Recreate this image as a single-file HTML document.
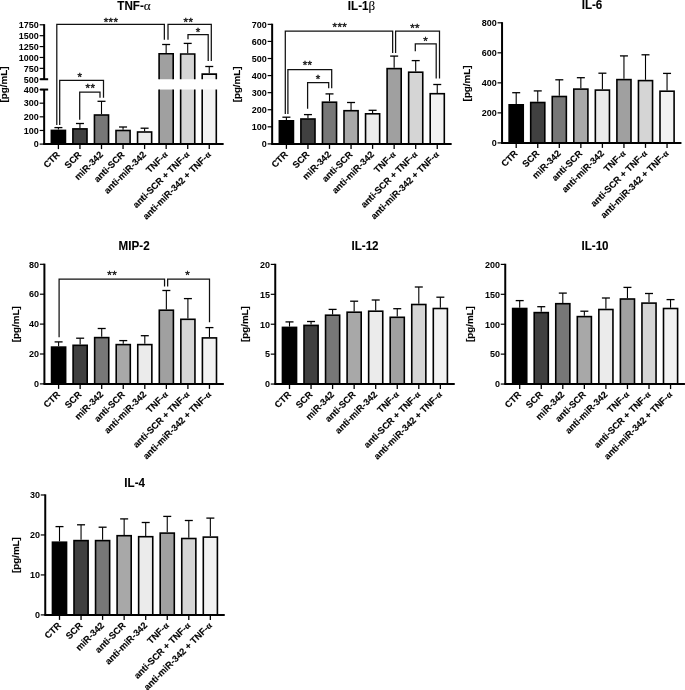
<!DOCTYPE html>
<html><head><meta charset="utf-8"><style>
html,body{margin:0;padding:0;background:#fff;}
svg{display:block;}
text{font-family:"Liberation Sans",Arial,sans-serif;font-weight:bold;fill:#000;stroke:#000;stroke-width:0.15px;}
text.st{font-weight:normal;fill:#111;stroke:#111;stroke-width:0.35px;letter-spacing:0.4px;}
text.ns{stroke:none;}
text.tk{stroke:none;}
text.tt{stroke-width:0.1px;}
.g{font-family:"Liberation Serif","DejaVu Serif",serif;font-weight:bold;}
.gt{font-family:"Liberation Serif","DejaVu Serif",serif;font-weight:normal;font-size:13.5px;stroke-width:0.1px;}
</style></head><body>
<svg width="685" height="690" viewBox="0 0 685 690">
<rect width="685" height="690" fill="#fff"/>
<line x1="58.40" y1="129.60" x2="58.40" y2="127.60" stroke="#000" stroke-width="1.1"/>
<line x1="54.40" y1="127.60" x2="62.40" y2="127.60" stroke="#000" stroke-width="1.3"/>
<rect x="51.35" y="130.40" width="14.10" height="13.70" fill="#000000" stroke="#000" stroke-width="1.6"/>
<line x1="79.95" y1="128.10" x2="79.95" y2="123.50" stroke="#000" stroke-width="1.1"/>
<line x1="75.95" y1="123.50" x2="83.95" y2="123.50" stroke="#000" stroke-width="1.3"/>
<rect x="72.90" y="128.90" width="14.10" height="15.20" fill="#404040" stroke="#000" stroke-width="1.6"/>
<line x1="101.50" y1="114.20" x2="101.50" y2="101.30" stroke="#000" stroke-width="1.1"/>
<line x1="97.50" y1="101.30" x2="105.50" y2="101.30" stroke="#000" stroke-width="1.3"/>
<rect x="94.45" y="115.00" width="14.10" height="29.10" fill="#777777" stroke="#000" stroke-width="1.6"/>
<line x1="123.05" y1="129.70" x2="123.05" y2="127.00" stroke="#000" stroke-width="1.1"/>
<line x1="119.05" y1="127.00" x2="127.05" y2="127.00" stroke="#000" stroke-width="1.3"/>
<rect x="116.00" y="130.50" width="14.10" height="13.60" fill="#a8a8a8" stroke="#000" stroke-width="1.6"/>
<line x1="144.60" y1="131.20" x2="144.60" y2="128.20" stroke="#000" stroke-width="1.1"/>
<line x1="140.60" y1="128.20" x2="148.60" y2="128.20" stroke="#000" stroke-width="1.3"/>
<rect x="137.55" y="132.00" width="14.10" height="12.10" fill="#ebebeb" stroke="#000" stroke-width="1.6"/>
<line x1="166.15" y1="52.90" x2="166.15" y2="44.50" stroke="#000" stroke-width="1.1"/>
<line x1="162.15" y1="44.50" x2="170.15" y2="44.50" stroke="#000" stroke-width="1.3"/>
<rect x="159.10" y="53.70" width="14.10" height="25.55" fill="#a0a0a0" stroke="none"/>
<rect x="159.10" y="89.55" width="14.10" height="54.55" fill="#a0a0a0" stroke="none"/>
<path d="M159.10,79.25 V53.70 H173.20 V79.25 M159.10,144.10 V89.55 M173.20,144.10 V89.55" fill="none" stroke="#000" stroke-width="1.6"/>
<line x1="187.70" y1="53.20" x2="187.70" y2="43.40" stroke="#000" stroke-width="1.1"/>
<line x1="183.70" y1="43.40" x2="191.70" y2="43.40" stroke="#000" stroke-width="1.3"/>
<rect x="180.65" y="54.00" width="14.10" height="25.25" fill="#d5d5d5" stroke="none"/>
<rect x="180.65" y="89.55" width="14.10" height="54.55" fill="#d5d5d5" stroke="none"/>
<path d="M180.65,79.25 V54.00 H194.75 V79.25 M180.65,144.10 V89.55 M194.75,144.10 V89.55" fill="none" stroke="#000" stroke-width="1.6"/>
<line x1="209.25" y1="73.30" x2="209.25" y2="66.50" stroke="#000" stroke-width="1.1"/>
<line x1="205.25" y1="66.50" x2="213.25" y2="66.50" stroke="#000" stroke-width="1.3"/>
<rect x="202.20" y="74.10" width="14.10" height="5.15" fill="#f2f2f2" stroke="none"/>
<rect x="202.20" y="89.55" width="14.10" height="54.55" fill="#f2f2f2" stroke="none"/>
<path d="M202.20,79.25 V74.10 H216.30 V79.25 M202.20,144.10 V89.55 M216.30,144.10 V89.55" fill="none" stroke="#000" stroke-width="1.6"/>
<line x1="44.15" y1="24.15" x2="44.15" y2="79.25" stroke="#000" stroke-width="2"/>
<line x1="44.15" y1="89.55" x2="44.15" y2="144.10" stroke="#000" stroke-width="2"/>
<line x1="40.15" y1="79.25" x2="48.15" y2="79.25" stroke="#000" stroke-width="2"/>
<line x1="40.15" y1="89.55" x2="48.15" y2="89.55" stroke="#000" stroke-width="2"/>
<line x1="39.65" y1="144.10" x2="44.15" y2="144.10" stroke="#000" stroke-width="1.2"/>
<text transform="translate(38.85 147.40) rotate(0.02) scale(0.95 1)" font-size="9.5" text-anchor="end" class="tk">0</text>
<line x1="39.65" y1="130.46" x2="44.15" y2="130.46" stroke="#000" stroke-width="1.2"/>
<text transform="translate(38.85 133.76) rotate(0.02) scale(0.95 1)" font-size="9.5" text-anchor="end" class="tk">100</text>
<line x1="39.65" y1="116.82" x2="44.15" y2="116.82" stroke="#000" stroke-width="1.2"/>
<text transform="translate(38.85 120.12) rotate(0.02) scale(0.95 1)" font-size="9.5" text-anchor="end" class="tk">200</text>
<line x1="39.65" y1="103.18" x2="44.15" y2="103.18" stroke="#000" stroke-width="1.2"/>
<text transform="translate(38.85 106.48) rotate(0.02) scale(0.95 1)" font-size="9.5" text-anchor="end" class="tk">300</text>
<line x1="39.65" y1="89.54" x2="44.15" y2="89.54" stroke="#000" stroke-width="1.2"/>
<text transform="translate(38.85 92.84) rotate(0.02) scale(0.95 1)" font-size="9.5" text-anchor="end" class="tk">400</text>
<line x1="39.65" y1="79.25" x2="44.15" y2="79.25" stroke="#000" stroke-width="1.2"/>
<text transform="translate(38.85 82.55) rotate(0.02) scale(0.95 1)" font-size="9.5" text-anchor="end" class="tk">500</text>
<line x1="39.65" y1="68.36" x2="44.15" y2="68.36" stroke="#000" stroke-width="1.2"/>
<text transform="translate(38.85 71.66) rotate(0.02) scale(0.95 1)" font-size="9.5" text-anchor="end" class="tk">750</text>
<line x1="39.65" y1="57.47" x2="44.15" y2="57.47" stroke="#000" stroke-width="1.2"/>
<text transform="translate(38.85 60.77) rotate(0.02) scale(0.95 1)" font-size="9.5" text-anchor="end" class="tk">1000</text>
<line x1="39.65" y1="46.58" x2="44.15" y2="46.58" stroke="#000" stroke-width="1.2"/>
<text transform="translate(38.85 49.88) rotate(0.02) scale(0.95 1)" font-size="9.5" text-anchor="end" class="tk">1250</text>
<line x1="39.65" y1="35.69" x2="44.15" y2="35.69" stroke="#000" stroke-width="1.2"/>
<text transform="translate(38.85 38.99) rotate(0.02) scale(0.95 1)" font-size="9.5" text-anchor="end" class="tk">1500</text>
<line x1="39.65" y1="24.80" x2="44.15" y2="24.80" stroke="#000" stroke-width="1.2"/>
<text transform="translate(38.85 28.10) rotate(0.02) scale(0.95 1)" font-size="9.5" text-anchor="end" class="tk">1750</text>
<line x1="43.15" y1="144.10" x2="223.65" y2="144.10" stroke="#000" stroke-width="2"/>
<line x1="58.40" y1="144.10" x2="58.40" y2="149.10" stroke="#000" stroke-width="1.3"/>
<text x="60.50" y="155.20" font-size="9.2" text-anchor="end" transform="rotate(-45 60.50 155.20)">CTR</text>
<line x1="79.95" y1="144.10" x2="79.95" y2="149.10" stroke="#000" stroke-width="1.3"/>
<text x="82.05" y="155.20" font-size="9.2" text-anchor="end" transform="rotate(-45 82.05 155.20)">SCR</text>
<line x1="101.50" y1="144.10" x2="101.50" y2="149.10" stroke="#000" stroke-width="1.3"/>
<text x="103.60" y="155.20" font-size="9.2" text-anchor="end" transform="rotate(-45 103.60 155.20)">miR-342</text>
<line x1="123.05" y1="144.10" x2="123.05" y2="149.10" stroke="#000" stroke-width="1.3"/>
<text x="125.15" y="155.20" font-size="9.2" text-anchor="end" transform="rotate(-45 125.15 155.20)">anti-SCR</text>
<line x1="144.60" y1="144.10" x2="144.60" y2="149.10" stroke="#000" stroke-width="1.3"/>
<text x="146.70" y="155.20" font-size="9.2" text-anchor="end" transform="rotate(-45 146.70 155.20)">anti-miR-342</text>
<line x1="166.15" y1="144.10" x2="166.15" y2="149.10" stroke="#000" stroke-width="1.3"/>
<text x="168.25" y="155.20" font-size="9.2" text-anchor="end" transform="rotate(-45 168.25 155.20)">TNF-<tspan class="g">α</tspan></text>
<line x1="187.70" y1="144.10" x2="187.70" y2="149.10" stroke="#000" stroke-width="1.3"/>
<text x="189.80" y="155.20" font-size="9.2" text-anchor="end" transform="rotate(-45 189.80 155.20)">anti-SCR + TNF-<tspan class="g">α</tspan></text>
<line x1="209.25" y1="144.10" x2="209.25" y2="149.10" stroke="#000" stroke-width="1.3"/>
<text x="211.35" y="155.20" font-size="9.2" text-anchor="end" transform="rotate(-45 211.35 155.20)">anti-miR-342 + TNF-<tspan class="g">α</tspan></text>
<text x="7.30" y="84.50" font-size="9.8" text-anchor="middle" transform="rotate(-90 7.30 84.50)">[pg/mL]</text>
<text transform="translate(134.00 9.85) rotate(0.02) scale(0.97 1)" font-size="12.0" text-anchor="middle" class="tt">TNF-<tspan class="gt">α</tspan></text>
<path d="M56.80,125.00 V24.45 H164.35 V39.70" fill="none" stroke="#111" stroke-width="1.25"/>
<text x="111.00" y="25.70" font-size="11.5" text-anchor="middle" class="st">***</text>
<path d="M168.00,39.70 V24.45 H211.30 V61.10" fill="none" stroke="#111" stroke-width="1.25"/>
<text x="188.40" y="26.10" font-size="11.5" text-anchor="middle" class="st">**</text>
<path d="M188.00,39.30 V34.60 H208.20 V61.10" fill="none" stroke="#111" stroke-width="1.25"/>
<text x="198.10" y="36.20" font-size="11.5" text-anchor="middle" class="st">*</text>
<path d="M59.70,125.00 V80.40 H103.50 V97.80" fill="none" stroke="#111" stroke-width="1.25"/>
<text x="80.00" y="80.50" font-size="11.5" text-anchor="middle" class="st">*</text>
<path d="M79.70,119.80 V92.00 H100.00 V97.80" fill="none" stroke="#111" stroke-width="1.25"/>
<text x="90.40" y="92.10" font-size="11.5" text-anchor="middle" class="st">**</text>
<line x1="286.40" y1="120.00" x2="286.40" y2="117.20" stroke="#000" stroke-width="1.1"/>
<line x1="282.40" y1="117.20" x2="290.40" y2="117.20" stroke="#000" stroke-width="1.3"/>
<rect x="279.35" y="120.80" width="14.10" height="23.10" fill="#000000" stroke="#000" stroke-width="1.6"/>
<line x1="307.95" y1="118.20" x2="307.95" y2="114.60" stroke="#000" stroke-width="1.1"/>
<line x1="303.95" y1="114.60" x2="311.95" y2="114.60" stroke="#000" stroke-width="1.3"/>
<rect x="300.90" y="119.00" width="14.10" height="24.90" fill="#404040" stroke="#000" stroke-width="1.6"/>
<line x1="329.50" y1="101.40" x2="329.50" y2="93.90" stroke="#000" stroke-width="1.1"/>
<line x1="325.50" y1="93.90" x2="333.50" y2="93.90" stroke="#000" stroke-width="1.3"/>
<rect x="322.45" y="102.20" width="14.10" height="41.70" fill="#777777" stroke="#000" stroke-width="1.6"/>
<line x1="351.05" y1="109.90" x2="351.05" y2="102.50" stroke="#000" stroke-width="1.1"/>
<line x1="347.05" y1="102.50" x2="355.05" y2="102.50" stroke="#000" stroke-width="1.3"/>
<rect x="344.00" y="110.70" width="14.10" height="33.20" fill="#a8a8a8" stroke="#000" stroke-width="1.6"/>
<line x1="372.60" y1="113.00" x2="372.60" y2="110.30" stroke="#000" stroke-width="1.1"/>
<line x1="368.60" y1="110.30" x2="376.60" y2="110.30" stroke="#000" stroke-width="1.3"/>
<rect x="365.55" y="113.80" width="14.10" height="30.10" fill="#ebebeb" stroke="#000" stroke-width="1.6"/>
<line x1="394.15" y1="67.80" x2="394.15" y2="56.10" stroke="#000" stroke-width="1.1"/>
<line x1="390.15" y1="56.10" x2="398.15" y2="56.10" stroke="#000" stroke-width="1.3"/>
<rect x="387.10" y="68.60" width="14.10" height="75.30" fill="#a0a0a0" stroke="#000" stroke-width="1.6"/>
<line x1="415.70" y1="71.40" x2="415.70" y2="60.60" stroke="#000" stroke-width="1.1"/>
<line x1="411.70" y1="60.60" x2="419.70" y2="60.60" stroke="#000" stroke-width="1.3"/>
<rect x="408.65" y="72.20" width="14.10" height="71.70" fill="#d5d5d5" stroke="#000" stroke-width="1.6"/>
<line x1="437.25" y1="92.90" x2="437.25" y2="84.50" stroke="#000" stroke-width="1.1"/>
<line x1="433.25" y1="84.50" x2="441.25" y2="84.50" stroke="#000" stroke-width="1.3"/>
<rect x="430.20" y="93.70" width="14.10" height="50.20" fill="#f2f2f2" stroke="#000" stroke-width="1.6"/>
<line x1="272.15" y1="23.70" x2="272.15" y2="143.90" stroke="#000" stroke-width="2"/>
<line x1="267.65" y1="143.90" x2="272.15" y2="143.90" stroke="#000" stroke-width="1.2"/>
<text transform="translate(266.85 147.20) rotate(0.02) scale(0.95 1)" font-size="9.5" text-anchor="end" class="tk">0</text>
<line x1="267.65" y1="126.82" x2="272.15" y2="126.82" stroke="#000" stroke-width="1.2"/>
<text transform="translate(266.85 130.12) rotate(0.02) scale(0.95 1)" font-size="9.5" text-anchor="end" class="tk">100</text>
<line x1="267.65" y1="109.74" x2="272.15" y2="109.74" stroke="#000" stroke-width="1.2"/>
<text transform="translate(266.85 113.04) rotate(0.02) scale(0.95 1)" font-size="9.5" text-anchor="end" class="tk">200</text>
<line x1="267.65" y1="92.66" x2="272.15" y2="92.66" stroke="#000" stroke-width="1.2"/>
<text transform="translate(266.85 95.96) rotate(0.02) scale(0.95 1)" font-size="9.5" text-anchor="end" class="tk">300</text>
<line x1="267.65" y1="75.58" x2="272.15" y2="75.58" stroke="#000" stroke-width="1.2"/>
<text transform="translate(266.85 78.88) rotate(0.02) scale(0.95 1)" font-size="9.5" text-anchor="end" class="tk">400</text>
<line x1="267.65" y1="58.51" x2="272.15" y2="58.51" stroke="#000" stroke-width="1.2"/>
<text transform="translate(266.85 61.81) rotate(0.02) scale(0.95 1)" font-size="9.5" text-anchor="end" class="tk">500</text>
<line x1="267.65" y1="41.43" x2="272.15" y2="41.43" stroke="#000" stroke-width="1.2"/>
<text transform="translate(266.85 44.73) rotate(0.02) scale(0.95 1)" font-size="9.5" text-anchor="end" class="tk">600</text>
<line x1="267.65" y1="24.35" x2="272.15" y2="24.35" stroke="#000" stroke-width="1.2"/>
<text transform="translate(266.85 27.65) rotate(0.02) scale(0.95 1)" font-size="9.5" text-anchor="end" class="tk">700</text>
<line x1="271.15" y1="143.90" x2="451.65" y2="143.90" stroke="#000" stroke-width="2"/>
<line x1="286.40" y1="143.90" x2="286.40" y2="148.90" stroke="#000" stroke-width="1.3"/>
<text x="288.50" y="155.00" font-size="9.2" text-anchor="end" transform="rotate(-45 288.50 155.00)">CTR</text>
<line x1="307.95" y1="143.90" x2="307.95" y2="148.90" stroke="#000" stroke-width="1.3"/>
<text x="310.05" y="155.00" font-size="9.2" text-anchor="end" transform="rotate(-45 310.05 155.00)">SCR</text>
<line x1="329.50" y1="143.90" x2="329.50" y2="148.90" stroke="#000" stroke-width="1.3"/>
<text x="331.60" y="155.00" font-size="9.2" text-anchor="end" transform="rotate(-45 331.60 155.00)">miR-342</text>
<line x1="351.05" y1="143.90" x2="351.05" y2="148.90" stroke="#000" stroke-width="1.3"/>
<text x="353.15" y="155.00" font-size="9.2" text-anchor="end" transform="rotate(-45 353.15 155.00)">anti-SCR</text>
<line x1="372.60" y1="143.90" x2="372.60" y2="148.90" stroke="#000" stroke-width="1.3"/>
<text x="374.70" y="155.00" font-size="9.2" text-anchor="end" transform="rotate(-45 374.70 155.00)">anti-miR-342</text>
<line x1="394.15" y1="143.90" x2="394.15" y2="148.90" stroke="#000" stroke-width="1.3"/>
<text x="396.25" y="155.00" font-size="9.2" text-anchor="end" transform="rotate(-45 396.25 155.00)">TNF-<tspan class="g">α</tspan></text>
<line x1="415.70" y1="143.90" x2="415.70" y2="148.90" stroke="#000" stroke-width="1.3"/>
<text x="417.80" y="155.00" font-size="9.2" text-anchor="end" transform="rotate(-45 417.80 155.00)">anti-SCR + TNF-<tspan class="g">α</tspan></text>
<line x1="437.25" y1="143.90" x2="437.25" y2="148.90" stroke="#000" stroke-width="1.3"/>
<text x="439.35" y="155.00" font-size="9.2" text-anchor="end" transform="rotate(-45 439.35 155.00)">anti-miR-342 + TNF-<tspan class="g">α</tspan></text>
<text x="240.40" y="84.40" font-size="9.8" text-anchor="middle" transform="rotate(-90 240.40 84.40)">[pg/mL]</text>
<text transform="translate(361.50 9.90) rotate(0.02) scale(0.97 1)" font-size="12.0" text-anchor="middle" class="tt">IL-1<tspan class="gt">β</tspan></text>
<path d="M285.30,113.90 V31.05 H392.65 V52.90" fill="none" stroke="#111" stroke-width="1.25"/>
<text x="339.90" y="31.30" font-size="11.5" text-anchor="middle" class="st">***</text>
<path d="M395.60,52.90 V31.05 H439.50 V78.60" fill="none" stroke="#111" stroke-width="1.25"/>
<text x="415.10" y="31.70" font-size="11.5" text-anchor="middle" class="st">**</text>
<path d="M415.30,51.20 V43.80 H436.20 V78.60" fill="none" stroke="#111" stroke-width="1.25"/>
<text x="425.80" y="44.80" font-size="11.5" text-anchor="middle" class="st">*</text>
<path d="M287.90,113.90 V69.50 H331.70 V88.30" fill="none" stroke="#111" stroke-width="1.25"/>
<text x="307.60" y="68.90" font-size="11.5" text-anchor="middle" class="st">**</text>
<path d="M307.60,108.70 V82.50 H328.70 V88.30" fill="none" stroke="#111" stroke-width="1.25"/>
<text x="318.30" y="83.30" font-size="11.5" text-anchor="middle" class="st">*</text>
<line x1="516.20" y1="104.00" x2="516.20" y2="92.70" stroke="#000" stroke-width="1.1"/>
<line x1="512.20" y1="92.70" x2="520.20" y2="92.70" stroke="#000" stroke-width="1.3"/>
<rect x="509.15" y="104.80" width="14.10" height="38.10" fill="#000000" stroke="#000" stroke-width="1.6"/>
<line x1="537.75" y1="101.70" x2="537.75" y2="90.90" stroke="#000" stroke-width="1.1"/>
<line x1="533.75" y1="90.90" x2="541.75" y2="90.90" stroke="#000" stroke-width="1.3"/>
<rect x="530.70" y="102.50" width="14.10" height="40.40" fill="#404040" stroke="#000" stroke-width="1.6"/>
<line x1="559.30" y1="95.70" x2="559.30" y2="79.80" stroke="#000" stroke-width="1.1"/>
<line x1="555.30" y1="79.80" x2="563.30" y2="79.80" stroke="#000" stroke-width="1.3"/>
<rect x="552.25" y="96.50" width="14.10" height="46.40" fill="#777777" stroke="#000" stroke-width="1.6"/>
<line x1="580.85" y1="88.30" x2="580.85" y2="77.70" stroke="#000" stroke-width="1.1"/>
<line x1="576.85" y1="77.70" x2="584.85" y2="77.70" stroke="#000" stroke-width="1.3"/>
<rect x="573.80" y="89.10" width="14.10" height="53.80" fill="#a8a8a8" stroke="#000" stroke-width="1.6"/>
<line x1="602.40" y1="89.30" x2="602.40" y2="73.20" stroke="#000" stroke-width="1.1"/>
<line x1="598.40" y1="73.20" x2="606.40" y2="73.20" stroke="#000" stroke-width="1.3"/>
<rect x="595.35" y="90.10" width="14.10" height="52.80" fill="#ebebeb" stroke="#000" stroke-width="1.6"/>
<line x1="623.95" y1="78.80" x2="623.95" y2="55.90" stroke="#000" stroke-width="1.1"/>
<line x1="619.95" y1="55.90" x2="627.95" y2="55.90" stroke="#000" stroke-width="1.3"/>
<rect x="616.90" y="79.60" width="14.10" height="63.30" fill="#a0a0a0" stroke="#000" stroke-width="1.6"/>
<line x1="645.50" y1="79.80" x2="645.50" y2="54.80" stroke="#000" stroke-width="1.1"/>
<line x1="641.50" y1="54.80" x2="649.50" y2="54.80" stroke="#000" stroke-width="1.3"/>
<rect x="638.45" y="80.60" width="14.10" height="62.30" fill="#d5d5d5" stroke="#000" stroke-width="1.6"/>
<line x1="667.05" y1="90.40" x2="667.05" y2="73.40" stroke="#000" stroke-width="1.1"/>
<line x1="663.05" y1="73.40" x2="671.05" y2="73.40" stroke="#000" stroke-width="1.3"/>
<rect x="660.00" y="91.20" width="14.10" height="51.70" fill="#f2f2f2" stroke="#000" stroke-width="1.6"/>
<line x1="502.05" y1="22.15" x2="502.05" y2="142.90" stroke="#000" stroke-width="2"/>
<line x1="497.55" y1="142.90" x2="502.05" y2="142.90" stroke="#000" stroke-width="1.2"/>
<text transform="translate(496.75 146.20) rotate(0.02) scale(0.95 1)" font-size="9.5" text-anchor="end" class="tk">0</text>
<line x1="497.55" y1="112.87" x2="502.05" y2="112.87" stroke="#000" stroke-width="1.2"/>
<text transform="translate(496.75 116.17) rotate(0.02) scale(0.95 1)" font-size="9.5" text-anchor="end" class="tk">200</text>
<line x1="497.55" y1="82.85" x2="502.05" y2="82.85" stroke="#000" stroke-width="1.2"/>
<text transform="translate(496.75 86.15) rotate(0.02) scale(0.95 1)" font-size="9.5" text-anchor="end" class="tk">400</text>
<line x1="497.55" y1="52.82" x2="502.05" y2="52.82" stroke="#000" stroke-width="1.2"/>
<text transform="translate(496.75 56.12) rotate(0.02) scale(0.95 1)" font-size="9.5" text-anchor="end" class="tk">600</text>
<line x1="497.55" y1="22.80" x2="502.05" y2="22.80" stroke="#000" stroke-width="1.2"/>
<text transform="translate(496.75 26.10) rotate(0.02) scale(0.95 1)" font-size="9.5" text-anchor="end" class="tk">800</text>
<line x1="501.05" y1="142.90" x2="681.45" y2="142.90" stroke="#000" stroke-width="2"/>
<line x1="516.20" y1="142.90" x2="516.20" y2="147.90" stroke="#000" stroke-width="1.3"/>
<text x="518.30" y="154.00" font-size="9.2" text-anchor="end" transform="rotate(-45 518.30 154.00)">CTR</text>
<line x1="537.75" y1="142.90" x2="537.75" y2="147.90" stroke="#000" stroke-width="1.3"/>
<text x="539.85" y="154.00" font-size="9.2" text-anchor="end" transform="rotate(-45 539.85 154.00)">SCR</text>
<line x1="559.30" y1="142.90" x2="559.30" y2="147.90" stroke="#000" stroke-width="1.3"/>
<text x="561.40" y="154.00" font-size="9.2" text-anchor="end" transform="rotate(-45 561.40 154.00)">miR-342</text>
<line x1="580.85" y1="142.90" x2="580.85" y2="147.90" stroke="#000" stroke-width="1.3"/>
<text x="582.95" y="154.00" font-size="9.2" text-anchor="end" transform="rotate(-45 582.95 154.00)">anti-SCR</text>
<line x1="602.40" y1="142.90" x2="602.40" y2="147.90" stroke="#000" stroke-width="1.3"/>
<text x="604.50" y="154.00" font-size="9.2" text-anchor="end" transform="rotate(-45 604.50 154.00)">anti-miR-342</text>
<line x1="623.95" y1="142.90" x2="623.95" y2="147.90" stroke="#000" stroke-width="1.3"/>
<text x="626.05" y="154.00" font-size="9.2" text-anchor="end" transform="rotate(-45 626.05 154.00)">TNF-<tspan class="g">α</tspan></text>
<line x1="645.50" y1="142.90" x2="645.50" y2="147.90" stroke="#000" stroke-width="1.3"/>
<text x="647.60" y="154.00" font-size="9.2" text-anchor="end" transform="rotate(-45 647.60 154.00)">anti-SCR + TNF-<tspan class="g">α</tspan></text>
<line x1="667.05" y1="142.90" x2="667.05" y2="147.90" stroke="#000" stroke-width="1.3"/>
<text x="669.15" y="154.00" font-size="9.2" text-anchor="end" transform="rotate(-45 669.15 154.00)">anti-miR-342 + TNF-<tspan class="g">α</tspan></text>
<text x="469.60" y="83.40" font-size="9.8" text-anchor="middle" transform="rotate(-90 469.60 83.40)">[pg/mL]</text>
<text transform="translate(592.00 8.80) rotate(0.02) scale(0.97 1)" font-size="12.0" text-anchor="middle" class="tt">IL-6</text>
<line x1="58.60" y1="346.30" x2="58.60" y2="341.90" stroke="#000" stroke-width="1.1"/>
<line x1="54.60" y1="341.90" x2="62.60" y2="341.90" stroke="#000" stroke-width="1.3"/>
<rect x="51.55" y="347.10" width="14.10" height="36.80" fill="#000000" stroke="#000" stroke-width="1.6"/>
<line x1="80.15" y1="344.50" x2="80.15" y2="338.20" stroke="#000" stroke-width="1.1"/>
<line x1="76.15" y1="338.20" x2="84.15" y2="338.20" stroke="#000" stroke-width="1.3"/>
<rect x="73.10" y="345.30" width="14.10" height="38.60" fill="#404040" stroke="#000" stroke-width="1.6"/>
<line x1="101.70" y1="336.80" x2="101.70" y2="328.50" stroke="#000" stroke-width="1.1"/>
<line x1="97.70" y1="328.50" x2="105.70" y2="328.50" stroke="#000" stroke-width="1.3"/>
<rect x="94.65" y="337.60" width="14.10" height="46.30" fill="#777777" stroke="#000" stroke-width="1.6"/>
<line x1="123.25" y1="343.80" x2="123.25" y2="340.60" stroke="#000" stroke-width="1.1"/>
<line x1="119.25" y1="340.60" x2="127.25" y2="340.60" stroke="#000" stroke-width="1.3"/>
<rect x="116.20" y="344.60" width="14.10" height="39.30" fill="#a8a8a8" stroke="#000" stroke-width="1.6"/>
<line x1="144.80" y1="343.80" x2="144.80" y2="335.70" stroke="#000" stroke-width="1.1"/>
<line x1="140.80" y1="335.70" x2="148.80" y2="335.70" stroke="#000" stroke-width="1.3"/>
<rect x="137.75" y="344.60" width="14.10" height="39.30" fill="#ebebeb" stroke="#000" stroke-width="1.6"/>
<line x1="166.35" y1="309.40" x2="166.35" y2="290.50" stroke="#000" stroke-width="1.1"/>
<line x1="162.35" y1="290.50" x2="170.35" y2="290.50" stroke="#000" stroke-width="1.3"/>
<rect x="159.30" y="310.20" width="14.10" height="73.70" fill="#a0a0a0" stroke="#000" stroke-width="1.6"/>
<line x1="187.90" y1="318.50" x2="187.90" y2="298.60" stroke="#000" stroke-width="1.1"/>
<line x1="183.90" y1="298.60" x2="191.90" y2="298.60" stroke="#000" stroke-width="1.3"/>
<rect x="180.85" y="319.30" width="14.10" height="64.60" fill="#d5d5d5" stroke="#000" stroke-width="1.6"/>
<line x1="209.45" y1="337.10" x2="209.45" y2="327.60" stroke="#000" stroke-width="1.1"/>
<line x1="205.45" y1="327.60" x2="213.45" y2="327.60" stroke="#000" stroke-width="1.3"/>
<rect x="202.40" y="337.90" width="14.10" height="46.00" fill="#f2f2f2" stroke="#000" stroke-width="1.6"/>
<line x1="44.40" y1="263.65" x2="44.40" y2="383.90" stroke="#000" stroke-width="2"/>
<line x1="39.90" y1="383.90" x2="44.40" y2="383.90" stroke="#000" stroke-width="1.2"/>
<text transform="translate(39.10 387.20) rotate(0.02) scale(0.95 1)" font-size="9.5" text-anchor="end" class="tk">0</text>
<line x1="39.90" y1="354.00" x2="44.40" y2="354.00" stroke="#000" stroke-width="1.2"/>
<text transform="translate(39.10 357.30) rotate(0.02) scale(0.95 1)" font-size="9.5" text-anchor="end" class="tk">20</text>
<line x1="39.90" y1="324.10" x2="44.40" y2="324.10" stroke="#000" stroke-width="1.2"/>
<text transform="translate(39.10 327.40) rotate(0.02) scale(0.95 1)" font-size="9.5" text-anchor="end" class="tk">40</text>
<line x1="39.90" y1="294.20" x2="44.40" y2="294.20" stroke="#000" stroke-width="1.2"/>
<text transform="translate(39.10 297.50) rotate(0.02) scale(0.95 1)" font-size="9.5" text-anchor="end" class="tk">60</text>
<line x1="39.90" y1="264.30" x2="44.40" y2="264.30" stroke="#000" stroke-width="1.2"/>
<text transform="translate(39.10 267.60) rotate(0.02) scale(0.95 1)" font-size="9.5" text-anchor="end" class="tk">80</text>
<line x1="43.40" y1="383.90" x2="223.85" y2="383.90" stroke="#000" stroke-width="2"/>
<line x1="58.60" y1="383.90" x2="58.60" y2="388.90" stroke="#000" stroke-width="1.3"/>
<text x="60.70" y="395.00" font-size="9.2" text-anchor="end" transform="rotate(-45 60.70 395.00)">CTR</text>
<line x1="80.15" y1="383.90" x2="80.15" y2="388.90" stroke="#000" stroke-width="1.3"/>
<text x="82.25" y="395.00" font-size="9.2" text-anchor="end" transform="rotate(-45 82.25 395.00)">SCR</text>
<line x1="101.70" y1="383.90" x2="101.70" y2="388.90" stroke="#000" stroke-width="1.3"/>
<text x="103.80" y="395.00" font-size="9.2" text-anchor="end" transform="rotate(-45 103.80 395.00)">miR-342</text>
<line x1="123.25" y1="383.90" x2="123.25" y2="388.90" stroke="#000" stroke-width="1.3"/>
<text x="125.35" y="395.00" font-size="9.2" text-anchor="end" transform="rotate(-45 125.35 395.00)">anti-SCR</text>
<line x1="144.80" y1="383.90" x2="144.80" y2="388.90" stroke="#000" stroke-width="1.3"/>
<text x="146.90" y="395.00" font-size="9.2" text-anchor="end" transform="rotate(-45 146.90 395.00)">anti-miR-342</text>
<line x1="166.35" y1="383.90" x2="166.35" y2="388.90" stroke="#000" stroke-width="1.3"/>
<text x="168.45" y="395.00" font-size="9.2" text-anchor="end" transform="rotate(-45 168.45 395.00)">TNF-<tspan class="g">α</tspan></text>
<line x1="187.90" y1="383.90" x2="187.90" y2="388.90" stroke="#000" stroke-width="1.3"/>
<text x="190.00" y="395.00" font-size="9.2" text-anchor="end" transform="rotate(-45 190.00 395.00)">anti-SCR + TNF-<tspan class="g">α</tspan></text>
<line x1="209.45" y1="383.90" x2="209.45" y2="388.90" stroke="#000" stroke-width="1.3"/>
<text x="211.55" y="395.00" font-size="9.2" text-anchor="end" transform="rotate(-45 211.55 395.00)">anti-miR-342 + TNF-<tspan class="g">α</tspan></text>
<text x="19.00" y="324.20" font-size="9.8" text-anchor="middle" transform="rotate(-90 19.00 324.20)">[pg/mL]</text>
<text transform="translate(134.10 249.90) rotate(0.02) scale(0.97 1)" font-size="12.0" text-anchor="middle" class="tt">MIP-2</text>
<path d="M59.10,337.20 V279.00 H164.55 V286.40" fill="none" stroke="#111" stroke-width="1.25"/>
<text x="112.20" y="279.20" font-size="11.5" text-anchor="middle" class="st">**</text>
<path d="M167.65,286.40 V279.00 H209.50 V322.30" fill="none" stroke="#111" stroke-width="1.25"/>
<text x="187.80" y="278.50" font-size="11.5" text-anchor="middle" class="st">*</text>
<line x1="289.50" y1="326.60" x2="289.50" y2="321.90" stroke="#000" stroke-width="1.1"/>
<line x1="285.50" y1="321.90" x2="293.50" y2="321.90" stroke="#000" stroke-width="1.3"/>
<rect x="282.45" y="327.40" width="14.10" height="56.65" fill="#000000" stroke="#000" stroke-width="1.6"/>
<line x1="311.05" y1="324.60" x2="311.05" y2="321.50" stroke="#000" stroke-width="1.1"/>
<line x1="307.05" y1="321.50" x2="315.05" y2="321.50" stroke="#000" stroke-width="1.3"/>
<rect x="304.00" y="325.40" width="14.10" height="58.65" fill="#404040" stroke="#000" stroke-width="1.6"/>
<line x1="332.60" y1="314.40" x2="332.60" y2="309.40" stroke="#000" stroke-width="1.1"/>
<line x1="328.60" y1="309.40" x2="336.60" y2="309.40" stroke="#000" stroke-width="1.3"/>
<rect x="325.55" y="315.20" width="14.10" height="68.85" fill="#777777" stroke="#000" stroke-width="1.6"/>
<line x1="354.15" y1="311.40" x2="354.15" y2="301.20" stroke="#000" stroke-width="1.1"/>
<line x1="350.15" y1="301.20" x2="358.15" y2="301.20" stroke="#000" stroke-width="1.3"/>
<rect x="347.10" y="312.20" width="14.10" height="71.85" fill="#a8a8a8" stroke="#000" stroke-width="1.6"/>
<line x1="375.70" y1="310.40" x2="375.70" y2="300.00" stroke="#000" stroke-width="1.1"/>
<line x1="371.70" y1="300.00" x2="379.70" y2="300.00" stroke="#000" stroke-width="1.3"/>
<rect x="368.65" y="311.20" width="14.10" height="72.85" fill="#ebebeb" stroke="#000" stroke-width="1.6"/>
<line x1="397.25" y1="316.50" x2="397.25" y2="308.70" stroke="#000" stroke-width="1.1"/>
<line x1="393.25" y1="308.70" x2="401.25" y2="308.70" stroke="#000" stroke-width="1.3"/>
<rect x="390.20" y="317.30" width="14.10" height="66.75" fill="#a0a0a0" stroke="#000" stroke-width="1.6"/>
<line x1="418.80" y1="303.70" x2="418.80" y2="287.00" stroke="#000" stroke-width="1.1"/>
<line x1="414.80" y1="287.00" x2="422.80" y2="287.00" stroke="#000" stroke-width="1.3"/>
<rect x="411.75" y="304.50" width="14.10" height="79.55" fill="#d5d5d5" stroke="#000" stroke-width="1.6"/>
<line x1="440.35" y1="307.70" x2="440.35" y2="297.20" stroke="#000" stroke-width="1.1"/>
<line x1="436.35" y1="297.20" x2="444.35" y2="297.20" stroke="#000" stroke-width="1.3"/>
<rect x="433.30" y="308.50" width="14.10" height="75.55" fill="#f2f2f2" stroke="#000" stroke-width="1.6"/>
<line x1="275.25" y1="263.75" x2="275.25" y2="384.05" stroke="#000" stroke-width="2"/>
<line x1="270.75" y1="384.05" x2="275.25" y2="384.05" stroke="#000" stroke-width="1.2"/>
<text transform="translate(269.95 387.35) rotate(0.02) scale(0.95 1)" font-size="9.5" text-anchor="end" class="tk">0</text>
<line x1="270.75" y1="354.14" x2="275.25" y2="354.14" stroke="#000" stroke-width="1.2"/>
<text transform="translate(269.95 357.44) rotate(0.02) scale(0.95 1)" font-size="9.5" text-anchor="end" class="tk">5</text>
<line x1="270.75" y1="324.23" x2="275.25" y2="324.23" stroke="#000" stroke-width="1.2"/>
<text transform="translate(269.95 327.53) rotate(0.02) scale(0.95 1)" font-size="9.5" text-anchor="end" class="tk">10</text>
<line x1="270.75" y1="294.31" x2="275.25" y2="294.31" stroke="#000" stroke-width="1.2"/>
<text transform="translate(269.95 297.61) rotate(0.02) scale(0.95 1)" font-size="9.5" text-anchor="end" class="tk">15</text>
<line x1="270.75" y1="264.40" x2="275.25" y2="264.40" stroke="#000" stroke-width="1.2"/>
<text transform="translate(269.95 267.70) rotate(0.02) scale(0.95 1)" font-size="9.5" text-anchor="end" class="tk">20</text>
<line x1="274.25" y1="384.05" x2="454.75" y2="384.05" stroke="#000" stroke-width="2"/>
<line x1="289.50" y1="384.05" x2="289.50" y2="389.05" stroke="#000" stroke-width="1.3"/>
<text x="291.60" y="395.15" font-size="9.2" text-anchor="end" transform="rotate(-45 291.60 395.15)">CTR</text>
<line x1="311.05" y1="384.05" x2="311.05" y2="389.05" stroke="#000" stroke-width="1.3"/>
<text x="313.15" y="395.15" font-size="9.2" text-anchor="end" transform="rotate(-45 313.15 395.15)">SCR</text>
<line x1="332.60" y1="384.05" x2="332.60" y2="389.05" stroke="#000" stroke-width="1.3"/>
<text x="334.70" y="395.15" font-size="9.2" text-anchor="end" transform="rotate(-45 334.70 395.15)">miR-342</text>
<line x1="354.15" y1="384.05" x2="354.15" y2="389.05" stroke="#000" stroke-width="1.3"/>
<text x="356.25" y="395.15" font-size="9.2" text-anchor="end" transform="rotate(-45 356.25 395.15)">anti-SCR</text>
<line x1="375.70" y1="384.05" x2="375.70" y2="389.05" stroke="#000" stroke-width="1.3"/>
<text x="377.80" y="395.15" font-size="9.2" text-anchor="end" transform="rotate(-45 377.80 395.15)">anti-miR-342</text>
<line x1="397.25" y1="384.05" x2="397.25" y2="389.05" stroke="#000" stroke-width="1.3"/>
<text x="399.35" y="395.15" font-size="9.2" text-anchor="end" transform="rotate(-45 399.35 395.15)">TNF-<tspan class="g">α</tspan></text>
<line x1="418.80" y1="384.05" x2="418.80" y2="389.05" stroke="#000" stroke-width="1.3"/>
<text x="420.90" y="395.15" font-size="9.2" text-anchor="end" transform="rotate(-45 420.90 395.15)">anti-SCR + TNF-<tspan class="g">α</tspan></text>
<line x1="440.35" y1="384.05" x2="440.35" y2="389.05" stroke="#000" stroke-width="1.3"/>
<text x="442.45" y="395.15" font-size="9.2" text-anchor="end" transform="rotate(-45 442.45 395.15)">anti-miR-342 + TNF-<tspan class="g">α</tspan></text>
<text x="248.30" y="324.10" font-size="9.8" text-anchor="middle" transform="rotate(-90 248.30 324.10)">[pg/mL]</text>
<text transform="translate(365.00 249.70) rotate(0.02) scale(0.97 1)" font-size="12.0" text-anchor="middle" class="tt">IL-12</text>
<line x1="519.70" y1="307.70" x2="519.70" y2="300.60" stroke="#000" stroke-width="1.1"/>
<line x1="515.70" y1="300.60" x2="523.70" y2="300.60" stroke="#000" stroke-width="1.3"/>
<rect x="512.65" y="308.50" width="14.10" height="75.55" fill="#000000" stroke="#000" stroke-width="1.6"/>
<line x1="541.25" y1="311.80" x2="541.25" y2="306.70" stroke="#000" stroke-width="1.1"/>
<line x1="537.25" y1="306.70" x2="545.25" y2="306.70" stroke="#000" stroke-width="1.3"/>
<rect x="534.20" y="312.60" width="14.10" height="71.45" fill="#404040" stroke="#000" stroke-width="1.6"/>
<line x1="562.80" y1="302.90" x2="562.80" y2="293.10" stroke="#000" stroke-width="1.1"/>
<line x1="558.80" y1="293.10" x2="566.80" y2="293.10" stroke="#000" stroke-width="1.3"/>
<rect x="555.75" y="303.70" width="14.10" height="80.35" fill="#777777" stroke="#000" stroke-width="1.6"/>
<line x1="584.35" y1="315.80" x2="584.35" y2="311.20" stroke="#000" stroke-width="1.1"/>
<line x1="580.35" y1="311.20" x2="588.35" y2="311.20" stroke="#000" stroke-width="1.3"/>
<rect x="577.30" y="316.60" width="14.10" height="67.45" fill="#a8a8a8" stroke="#000" stroke-width="1.6"/>
<line x1="605.90" y1="308.70" x2="605.90" y2="298.00" stroke="#000" stroke-width="1.1"/>
<line x1="601.90" y1="298.00" x2="609.90" y2="298.00" stroke="#000" stroke-width="1.3"/>
<rect x="598.85" y="309.50" width="14.10" height="74.55" fill="#ebebeb" stroke="#000" stroke-width="1.6"/>
<line x1="627.45" y1="298.20" x2="627.45" y2="287.40" stroke="#000" stroke-width="1.1"/>
<line x1="623.45" y1="287.40" x2="631.45" y2="287.40" stroke="#000" stroke-width="1.3"/>
<rect x="620.40" y="299.00" width="14.10" height="85.05" fill="#a0a0a0" stroke="#000" stroke-width="1.6"/>
<line x1="649.00" y1="302.30" x2="649.00" y2="293.50" stroke="#000" stroke-width="1.1"/>
<line x1="645.00" y1="293.50" x2="653.00" y2="293.50" stroke="#000" stroke-width="1.3"/>
<rect x="641.95" y="303.10" width="14.10" height="80.95" fill="#d5d5d5" stroke="#000" stroke-width="1.6"/>
<line x1="670.55" y1="307.70" x2="670.55" y2="299.60" stroke="#000" stroke-width="1.1"/>
<line x1="666.55" y1="299.60" x2="674.55" y2="299.60" stroke="#000" stroke-width="1.3"/>
<rect x="663.50" y="308.50" width="14.10" height="75.55" fill="#f2f2f2" stroke="#000" stroke-width="1.6"/>
<line x1="505.25" y1="263.74" x2="505.25" y2="384.05" stroke="#000" stroke-width="2"/>
<line x1="500.75" y1="384.05" x2="505.25" y2="384.05" stroke="#000" stroke-width="1.2"/>
<text transform="translate(499.95 387.35) rotate(0.02) scale(0.95 1)" font-size="9.5" text-anchor="end" class="tk">0</text>
<line x1="500.75" y1="354.13" x2="505.25" y2="354.13" stroke="#000" stroke-width="1.2"/>
<text transform="translate(499.95 357.44) rotate(0.02) scale(0.95 1)" font-size="9.5" text-anchor="end" class="tk">50</text>
<line x1="500.75" y1="324.22" x2="505.25" y2="324.22" stroke="#000" stroke-width="1.2"/>
<text transform="translate(499.95 327.52) rotate(0.02) scale(0.95 1)" font-size="9.5" text-anchor="end" class="tk">100</text>
<line x1="500.75" y1="294.31" x2="505.25" y2="294.31" stroke="#000" stroke-width="1.2"/>
<text transform="translate(499.95 297.61) rotate(0.02) scale(0.95 1)" font-size="9.5" text-anchor="end" class="tk">150</text>
<line x1="500.75" y1="264.39" x2="505.25" y2="264.39" stroke="#000" stroke-width="1.2"/>
<text transform="translate(499.95 267.69) rotate(0.02) scale(0.95 1)" font-size="9.5" text-anchor="end" class="tk">200</text>
<line x1="504.25" y1="384.05" x2="684.95" y2="384.05" stroke="#000" stroke-width="2"/>
<line x1="519.70" y1="384.05" x2="519.70" y2="389.05" stroke="#000" stroke-width="1.3"/>
<text x="521.80" y="395.15" font-size="9.2" text-anchor="end" transform="rotate(-45 521.80 395.15)">CTR</text>
<line x1="541.25" y1="384.05" x2="541.25" y2="389.05" stroke="#000" stroke-width="1.3"/>
<text x="543.35" y="395.15" font-size="9.2" text-anchor="end" transform="rotate(-45 543.35 395.15)">SCR</text>
<line x1="562.80" y1="384.05" x2="562.80" y2="389.05" stroke="#000" stroke-width="1.3"/>
<text x="564.90" y="395.15" font-size="9.2" text-anchor="end" transform="rotate(-45 564.90 395.15)">miR-342</text>
<line x1="584.35" y1="384.05" x2="584.35" y2="389.05" stroke="#000" stroke-width="1.3"/>
<text x="586.45" y="395.15" font-size="9.2" text-anchor="end" transform="rotate(-45 586.45 395.15)">anti-SCR</text>
<line x1="605.90" y1="384.05" x2="605.90" y2="389.05" stroke="#000" stroke-width="1.3"/>
<text x="608.00" y="395.15" font-size="9.2" text-anchor="end" transform="rotate(-45 608.00 395.15)">anti-miR-342</text>
<line x1="627.45" y1="384.05" x2="627.45" y2="389.05" stroke="#000" stroke-width="1.3"/>
<text x="629.55" y="395.15" font-size="9.2" text-anchor="end" transform="rotate(-45 629.55 395.15)">TNF-<tspan class="g">α</tspan></text>
<line x1="649.00" y1="384.05" x2="649.00" y2="389.05" stroke="#000" stroke-width="1.3"/>
<text x="651.10" y="395.15" font-size="9.2" text-anchor="end" transform="rotate(-45 651.10 395.15)">anti-SCR + TNF-<tspan class="g">α</tspan></text>
<line x1="670.55" y1="384.05" x2="670.55" y2="389.05" stroke="#000" stroke-width="1.3"/>
<text x="672.65" y="395.15" font-size="9.2" text-anchor="end" transform="rotate(-45 672.65 395.15)">anti-miR-342 + TNF-<tspan class="g">α</tspan></text>
<text x="473.20" y="324.10" font-size="9.8" text-anchor="middle" transform="rotate(-90 473.20 324.10)">[pg/mL]</text>
<text transform="translate(595.00 249.70) rotate(0.02) scale(0.97 1)" font-size="12.0" text-anchor="middle" class="tt">IL-10</text>
<line x1="59.50" y1="541.40" x2="59.50" y2="526.60" stroke="#000" stroke-width="1.1"/>
<line x1="55.50" y1="526.60" x2="63.50" y2="526.60" stroke="#000" stroke-width="1.3"/>
<rect x="52.45" y="542.20" width="14.10" height="72.70" fill="#000000" stroke="#000" stroke-width="1.6"/>
<line x1="81.05" y1="539.80" x2="81.05" y2="524.80" stroke="#000" stroke-width="1.1"/>
<line x1="77.05" y1="524.80" x2="85.05" y2="524.80" stroke="#000" stroke-width="1.3"/>
<rect x="74.00" y="540.60" width="14.10" height="74.30" fill="#404040" stroke="#000" stroke-width="1.6"/>
<line x1="102.60" y1="539.80" x2="102.60" y2="527.20" stroke="#000" stroke-width="1.1"/>
<line x1="98.60" y1="527.20" x2="106.60" y2="527.20" stroke="#000" stroke-width="1.3"/>
<rect x="95.55" y="540.60" width="14.10" height="74.30" fill="#777777" stroke="#000" stroke-width="1.6"/>
<line x1="124.15" y1="534.90" x2="124.15" y2="518.90" stroke="#000" stroke-width="1.1"/>
<line x1="120.15" y1="518.90" x2="128.15" y2="518.90" stroke="#000" stroke-width="1.3"/>
<rect x="117.10" y="535.70" width="14.10" height="79.20" fill="#a8a8a8" stroke="#000" stroke-width="1.6"/>
<line x1="145.70" y1="535.90" x2="145.70" y2="522.50" stroke="#000" stroke-width="1.1"/>
<line x1="141.70" y1="522.50" x2="149.70" y2="522.50" stroke="#000" stroke-width="1.3"/>
<rect x="138.65" y="536.70" width="14.10" height="78.20" fill="#ebebeb" stroke="#000" stroke-width="1.6"/>
<line x1="167.25" y1="532.30" x2="167.25" y2="516.40" stroke="#000" stroke-width="1.1"/>
<line x1="163.25" y1="516.40" x2="171.25" y2="516.40" stroke="#000" stroke-width="1.3"/>
<rect x="160.20" y="533.10" width="14.10" height="81.80" fill="#a0a0a0" stroke="#000" stroke-width="1.6"/>
<line x1="188.80" y1="537.70" x2="188.80" y2="520.50" stroke="#000" stroke-width="1.1"/>
<line x1="184.80" y1="520.50" x2="192.80" y2="520.50" stroke="#000" stroke-width="1.3"/>
<rect x="181.75" y="538.50" width="14.10" height="76.40" fill="#d5d5d5" stroke="#000" stroke-width="1.6"/>
<line x1="210.35" y1="536.30" x2="210.35" y2="518.10" stroke="#000" stroke-width="1.1"/>
<line x1="206.35" y1="518.10" x2="214.35" y2="518.10" stroke="#000" stroke-width="1.3"/>
<rect x="203.30" y="537.10" width="14.10" height="77.80" fill="#f2f2f2" stroke="#000" stroke-width="1.6"/>
<line x1="45.25" y1="494.34" x2="45.25" y2="614.90" stroke="#000" stroke-width="2"/>
<line x1="40.75" y1="614.90" x2="45.25" y2="614.90" stroke="#000" stroke-width="1.2"/>
<text transform="translate(39.95 618.20) rotate(0.02) scale(0.95 1)" font-size="9.5" text-anchor="end" class="tk">0</text>
<line x1="40.75" y1="574.93" x2="45.25" y2="574.93" stroke="#000" stroke-width="1.2"/>
<text transform="translate(39.95 578.23) rotate(0.02) scale(0.95 1)" font-size="9.5" text-anchor="end" class="tk">10</text>
<line x1="40.75" y1="534.96" x2="45.25" y2="534.96" stroke="#000" stroke-width="1.2"/>
<text transform="translate(39.95 538.26) rotate(0.02) scale(0.95 1)" font-size="9.5" text-anchor="end" class="tk">20</text>
<line x1="40.75" y1="494.99" x2="45.25" y2="494.99" stroke="#000" stroke-width="1.2"/>
<text transform="translate(39.95 498.29) rotate(0.02) scale(0.95 1)" font-size="9.5" text-anchor="end" class="tk">30</text>
<line x1="44.25" y1="614.90" x2="224.75" y2="614.90" stroke="#000" stroke-width="2"/>
<line x1="59.50" y1="614.90" x2="59.50" y2="619.90" stroke="#000" stroke-width="1.3"/>
<text x="61.60" y="626.00" font-size="9.2" text-anchor="end" transform="rotate(-45 61.60 626.00)">CTR</text>
<line x1="81.05" y1="614.90" x2="81.05" y2="619.90" stroke="#000" stroke-width="1.3"/>
<text x="83.15" y="626.00" font-size="9.2" text-anchor="end" transform="rotate(-45 83.15 626.00)">SCR</text>
<line x1="102.60" y1="614.90" x2="102.60" y2="619.90" stroke="#000" stroke-width="1.3"/>
<text x="104.70" y="626.00" font-size="9.2" text-anchor="end" transform="rotate(-45 104.70 626.00)">miR-342</text>
<line x1="124.15" y1="614.90" x2="124.15" y2="619.90" stroke="#000" stroke-width="1.3"/>
<text x="126.25" y="626.00" font-size="9.2" text-anchor="end" transform="rotate(-45 126.25 626.00)">anti-SCR</text>
<line x1="145.70" y1="614.90" x2="145.70" y2="619.90" stroke="#000" stroke-width="1.3"/>
<text x="147.80" y="626.00" font-size="9.2" text-anchor="end" transform="rotate(-45 147.80 626.00)">anti-miR-342</text>
<line x1="167.25" y1="614.90" x2="167.25" y2="619.90" stroke="#000" stroke-width="1.3"/>
<text x="169.35" y="626.00" font-size="9.2" text-anchor="end" transform="rotate(-45 169.35 626.00)">TNF-<tspan class="g">α</tspan></text>
<line x1="188.80" y1="614.90" x2="188.80" y2="619.90" stroke="#000" stroke-width="1.3"/>
<text x="190.90" y="626.00" font-size="9.2" text-anchor="end" transform="rotate(-45 190.90 626.00)">anti-SCR + TNF-<tspan class="g">α</tspan></text>
<line x1="210.35" y1="614.90" x2="210.35" y2="619.90" stroke="#000" stroke-width="1.3"/>
<text x="212.45" y="626.00" font-size="9.2" text-anchor="end" transform="rotate(-45 212.45 626.00)">anti-miR-342 + TNF-<tspan class="g">α</tspan></text>
<text x="19.00" y="555.10" font-size="9.8" text-anchor="middle" transform="rotate(-90 19.00 555.10)">[pg/mL]</text>
<text transform="translate(134.70 486.60) rotate(0.02) scale(0.97 1)" font-size="12.0" text-anchor="middle" class="tt">IL-4</text>
</svg>
</body></html>
